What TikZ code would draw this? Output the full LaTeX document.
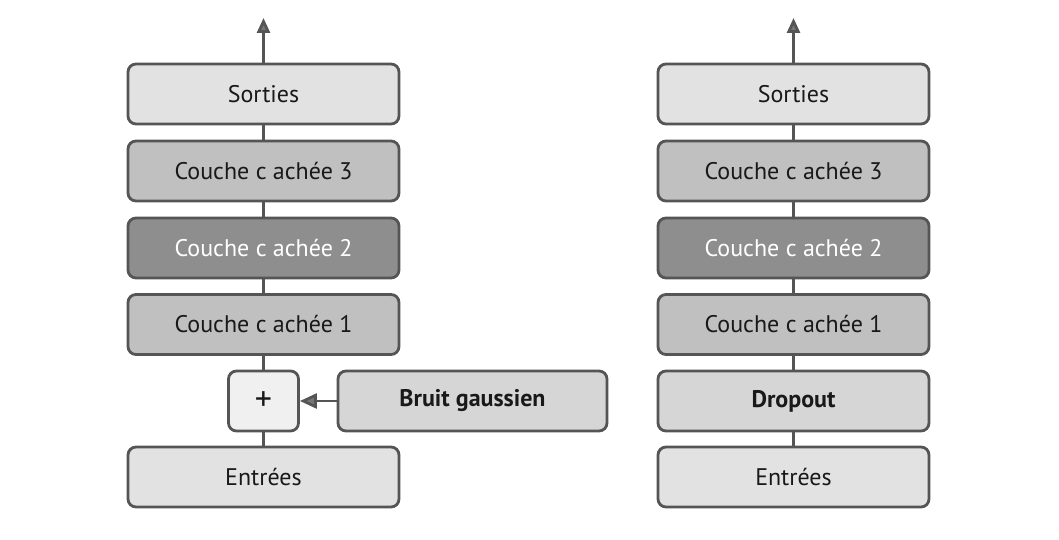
\documentclass[tikz,border=0pt]{standalone}
\usepackage{fontspec}
\setmainfont{PT Sans}
\usetikzlibrary{arrows.meta}
\definecolor{bord}{HTML}{555555}
\definecolor{clair}{HTML}{E2E2E2}
\definecolor{moyen}{HTML}{C0C0C0}
\definecolor{fonce}{HTML}{8E8E8E}
\definecolor{bruit}{HTML}{D6D6D6}
\definecolor{plus}{HTML}{F0F0F0}
\begin{document}
\begin{tikzpicture}[x=1pt,y=-1pt]
  \tikzstyle{boite}=[draw=bord, line width=2.8pt, rounded corners=8pt, minimum width=271pt, minimum height=60pt, inner sep=0, font=\fontsize{24}{28}\selectfont, text=black!90];
  \tikzstyle{lien}=[draw=bord, line width=2.8pt];
  \tikzstyle{fleche}=[lien, -{Triangle[length=15pt, width=13pt, fill=bord!80]}];

  \useasboundingbox (0,0) rectangle (1059,540);

  % reseau avec bruit gaussien
  \node[boite, fill=clair] (So) at (263.5,94) {Sorties};
  \node[boite, fill=moyen] (Ct) at (263.5,171) {Couche c achée 3};
  \node[boite, fill=fonce, text=white] (Cd) at (263.5,248) {Couche c achée 2};
  \node[boite, fill=moyen] (Cu) at (263.5,324.5) {Couche c achée 1};
  \node[boite, fill=plus, minimum width=70pt, font=\fontsize{34}{38}\selectfont] (P) at (263.5,401) {+};
  \node[boite, fill=bruit, minimum width=269pt, font=\fontsize{24}{28}\selectfont\bfseries] (B) at (472.5,401) {Bruit gaussien};
  \node[boite, fill=clair] (E) at (263.5,477) {Entrées};
  \coordinate (H) at (263.5,18);

  \draw[lien] (E) -- (P) -- (Cu) -- (Cd) -- (Ct) -- (So);
  \draw[fleche] (So) -- (H);
  \draw[fleche, -{Triangle[length=17pt, width=15pt, fill=bord!80]}] (B) -- (P);

  % reseau avec dropout
  \node[boite, fill=clair] (So2) at (793.5,94) {Sorties};
  \node[boite, fill=moyen] (Ct2) at (793.5,171) {Couche c achée 3};
  \node[boite, fill=fonce, text=white] (Cd2) at (793.5,248) {Couche c achée 2};
  \node[boite, fill=moyen] (Cu2) at (793.5,324.5) {Couche c achée 1};
  \node[boite, fill=bruit, font=\fontsize{24}{28}\selectfont\bfseries] (D) at (793.5,401) {Dropout};
  \node[boite, fill=clair] (E2) at (793.5,477) {Entrées};
  \coordinate (H2) at (793.5,18);

  \draw[lien] (E2) -- (D) -- (Cu2) -- (Cd2) -- (Ct2) -- (So2);
  \draw[fleche] (So2) -- (H2);
\end{tikzpicture}
\end{document}
